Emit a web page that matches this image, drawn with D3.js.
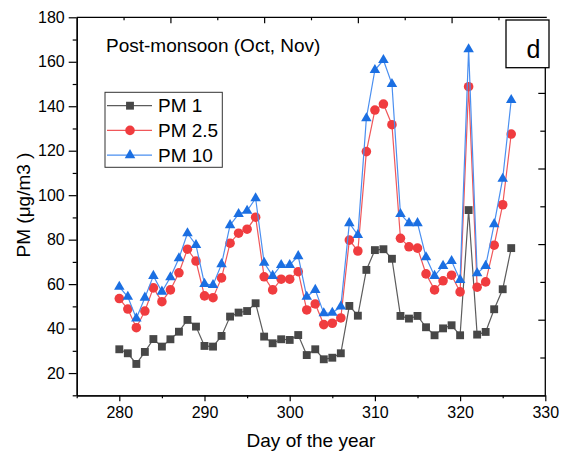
<!DOCTYPE html>
<html>
<head>
<meta charset="utf-8">
<script src="https://cdn.jsdelivr.net/npm/d3@7"></script>
<style>
  body { margin: 0; background: #fff; }
  text { font-family: "Liberation Sans", Arial, sans-serif; fill: #000; }
</style>
</head>
<body>
<div id="chart"></div>
<script>
// 0. Size of the svg and plot area
const width = 569;
const height = 455;
const margin = { top: 17.3, right: 23.7, bottom: 59.7, left: 76.7 };

// Data
const days = [280, 281, 282, 283, 284, 285, 286, 287, 288, 289, 290, 291, 292, 293, 294, 295,
  296, 297, 298, 299, 300, 301, 302, 303, 304, 305, 306, 307, 308, 309, 310, 311, 312, 313,
  314, 315, 316, 317, 318, 319, 320, 321, 322, 323, 324, 325, 326];
const pm1 = [30.7, 28.9, 24.1, 29.5, 35.3, 31.9, 35.2, 38.6, 43.9, 40.9, 32.2, 31.9, 36.7, 45.4,
  47.2, 47.9, 51.4, 36.4, 33.4, 35.2, 34.9, 37.1, 28.1, 30.7, 26.2, 26.9, 28.9, 50.2, 45.8, 66.4,
  75.3, 75.7, 71.4, 45.7, 44.5, 45.7, 40.6, 37, 40.1, 41.5, 37, 93.3, 37.3, 38.5, 48.7, 57.7, 76.2];
const pm25 = [53.5, 48.8, 40.4, 47.9, 58.3, 52.1, 57.4, 65.1, 75.7, 70.4, 54.7, 53.9, 62.8, 78.4,
  82.9, 84.7, 90.1, 63.3, 57.4, 62.2, 62.2, 65.6, 48.4, 51.1, 41.8, 42.4, 44.8, 79.8, 74.9, 119.6,
  138.3, 141, 131.7, 80.6, 76.8, 76.2, 64.6, 57.4, 61.5, 64, 56.5, 148.8, 58.6, 61, 77.5, 95.7, 127.5];
const pm10 = [58.8, 54.3, 44.6, 53.9, 63.7, 56.6, 63.1, 71.6, 82.9, 77.6, 60.1, 59.6, 69, 86.5,
  91.5, 93, 98.6, 69.6, 63.7, 68.6, 68.6, 72.6, 54.3, 57.4, 46.9, 47.1, 49.9, 87.4, 82.1, 134.6,
  156.3, 160.8, 150, 91.5, 87.4, 87.4, 72.1, 63.7, 68.2, 70.4, 61.9, 165.6, 64.9, 68.2, 87, 107.4, 142.8];

const seriesNames = ["PM 1", "PM 2.5", "PM 10"];
const xTicks = [280, 290, 300, 310, 320, 330];
const xMinorTicks = [275, 285, 295, 305, 315, 325];
const yTicks = [20, 40, 60, 80, 100, 120, 140, 160, 180];
const yMinorTicks = [10, 30, 50, 70, 90, 110, 130, 150, 170];

const titleText = "Post-monsoon (Oct, Nov)";
const panelLabel = "d";
const xLabel = "Day of the year";
const yLabel = "PM (μg/m3 )";

const styles = [
  { marker: "#474747", line: "#5c5c5c", symbol: d3.symbolSquare, size: 62 },
  { marker: "#f03c3f", line: "#f0575a", symbol: d3.symbolCircle, size: 72 },
  { marker: "#1b6fe2", line: "#4a8ff0", symbol: d3.symbolTriangle, size: 48 },
];

const series = [pm1, pm25, pm10].map((vals, i) => ({
  name: seriesNames[i],
  style: styles[i],
  points: days.map((d, j) => ({ day: d, value: vals[j] })),
}));

// 1. Scales
const x = d3.scaleLinear().domain([275, 330]).range([margin.left, width - margin.right]);
const y = d3.scaleLinear().domain([10, 180]).range([height - margin.bottom, margin.top]);
// the top and right frame ticks do not follow the data scales
const xTop = d3.scaleLinear().domain([0, 10]).range([margin.left, width - margin.right]);
const yRight = d3.scaleLinear().domain([0, 10]).range([height - margin.bottom, margin.top]);

const svg = d3
  .select("#chart")
  .append("svg")
  .attr("width", width)
  .attr("height", height);

// 2. Lines and markers
const line = d3
  .line()
  .x((d) => x(d.day))
  .y((d) => y(d.value));

series.forEach((s) => {
  svg
    .append("path")
    .datum(s.points)
    .attr("d", line)
    .attr("fill", "none")
    .attr("stroke", s.style.line)
    .attr("stroke-width", 1.2);

  svg
    .selectAll(null)
    .data(s.points)
    .enter()
    .append("path")
    .attr("d", d3.symbol().type(s.style.symbol).size(s.style.size))
    .attr("transform", (d) => `translate(${x(d.day)},${y(d.value)})`)
    .attr("fill", s.style.marker);
});

// 3. Axes
const axisStyle = (g) => {
  g.selectAll("path.domain").attr("stroke", "#000").attr("stroke-width", 1.3);
  g.selectAll(".tick line").attr("stroke", "#000").attr("stroke-width", 1.2);
  g.selectAll(".tick text")
    .style("font-family", '"Liberation Sans", Arial, sans-serif')
    .style("font-size", "16px")
    .attr("fill", "#000");
};

// bottom
svg
  .append("g")
  .attr("transform", `translate(0,${height - margin.bottom})`)
  .call(d3.axisBottom(x).tickValues(xMinorTicks).tickSize(3).tickFormat("").tickSizeOuter(0))
  .call(axisStyle);
svg
  .append("g")
  .attr("transform", `translate(0,${height - margin.bottom})`)
  .call(d3.axisBottom(x).tickValues(xTicks).tickSize(6).tickPadding(5).tickSizeOuter(0))
  .call(axisStyle);

// left
svg
  .append("g")
  .attr("transform", `translate(${margin.left},0)`)
  .call(d3.axisLeft(y).tickValues(yMinorTicks).tickSize(4).tickFormat("").tickSizeOuter(0))
  .call(axisStyle);
svg
  .append("g")
  .attr("transform", `translate(${margin.left},0)`)
  .call(d3.axisLeft(y).tickValues(yTicks).tickSize(8).tickPadding(4).tickSizeOuter(0))
  .call(axisStyle);

// top (ticks pointing inward)
const topAxis = svg
  .append("g")
  .attr("transform", `translate(0,${margin.top})`)
  .call(d3.axisTop(xTop).tickValues(d3.range(1, 10)).tickFormat("").tickSizeOuter(0))
  .call(axisStyle);
topAxis.select("path.domain").attr("d", `M${margin.left},0H${width - margin.right + 1.5}`);
topAxis.selectAll(".tick line").attr("y2", (d) => (d % 2 === 0 ? 6 : 3));

// right (ticks pointing inward), line starts below the panel box
const boxBottom = 67.7;
const rightAxis = svg
  .append("g")
  .attr("transform", `translate(${width - margin.right},0)`)
  .call(d3.axisRight(yRight).tickValues(d3.range(1, 10)).tickFormat("").tickSizeOuter(0))
  .call(axisStyle);
rightAxis.select("path.domain").attr("d", `M0,${boxBottom}V${height - margin.bottom}`);
rightAxis.selectAll(".tick line").attr("x2", (d) => (d % 2 === 0 ? -7 : -5));

// 4. Panel label box
svg
  .append("rect")
  .attr("x", 506)
  .attr("y", 20)
  .attr("width", 43)
  .attr("height", boxBottom - 20)
  .attr("fill", "#fff")
  .attr("stroke", "#000")
  .attr("stroke-width", 1.3);
svg
  .append("text")
  .attr("x", 533.5)
  .attr("y", 57.5)
  .attr("text-anchor", "middle")
  .style("font-size", "25px")
  .text(panelLabel);

// 5. Title
svg
  .append("text")
  .attr("x", 106)
  .attr("y", 52)
  .style("font-size", "19px")
  .text(titleText);

// 6. Axis labels
svg
  .append("text")
  .attr("x", (margin.left + width - margin.right) / 2)
  .attr("y", 447)
  .attr("text-anchor", "middle")
  .style("font-size", "19px")
  .text(xLabel);

svg
  .append("text")
  .attr("transform", "translate(30,205) rotate(-90)")
  .attr("text-anchor", "middle")
  .style("font-size", "19px")
  .text(yLabel);

// 7. Legend
const legend = svg.append("g").attr("transform", "translate(105,92.3)");
legend
  .append("rect")
  .attr("width", 117.3)
  .attr("height", 75)
  .attr("fill", "#fff")
  .attr("stroke", "#333")
  .attr("stroke-width", 1);

const legendItem = legend
  .selectAll(".legend-item")
  .data(series)
  .enter()
  .append("g")
  .attr("class", "legend-item")
  .attr("transform", (d, i) => `translate(0,${13.4 + i * 24.7})`);

legendItem
  .append("line")
  .attr("x1", 2)
  .attr("x2", 47)
  .attr("stroke", (d) => d.style.line)
  .attr("stroke-width", 1.2);
legendItem
  .append("path")
  .attr("d", (d) => d3.symbol().type(d.style.symbol).size(d.style.size)())
  .attr("transform", "translate(25,0)")
  .attr("fill", (d) => d.style.marker);
legendItem
  .append("text")
  .attr("x", 53)
  .attr("dy", "0.35em")
  .style("font-size", "19px")
  .text((d) => d.name);
</script>
</body>
</html>
